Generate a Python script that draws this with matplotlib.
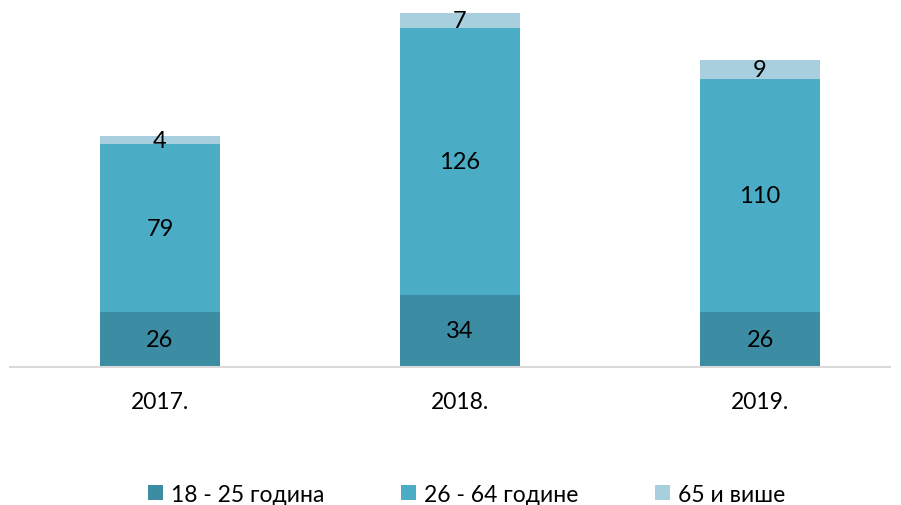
import matplotlib.pyplot as plt

plt.rcParams['font.family'] = ['Lato', 'DejaVu Sans']

years = ['2017.', '2018.', '2019.']
young = [26, 34, 26]
middle = [79, 126, 110]
old = [4, 7, 9]
labels = ['18 - 25 година', '26 - 64 године', '65 и више']
colors = ['#3C8CA3', '#4BACC6', '#A8CFDD']

fig = plt.figure(figsize=(9.01, 5.06), dpi=100)
ax = fig.add_axes([10 / 901, 1 - 368 / 506, 880 / 901, 368 / 506])

x = range(len(years))
bottom = [0] * len(years)
for vals, lab, col in zip([young, middle, old], labels, colors):
    ax.bar(x, vals, width=0.4, bottom=bottom, color=col, label=lab)
    for xi, b, v in zip(x, bottom, vals):
        ax.text(xi, b + v / 2, str(v), ha='center', va='center', fontsize=17, color='black')
    bottom = [b + v for b, v in zip(bottom, vals)]

ax.set_xlim(-0.5, 2.433)
ax.set_ylim(0, 368 / 2.12)
ax.set_yticks([])
ax.set_xticks(list(x))
ax.set_xticklabels(years, fontsize=16.5)
ax.tick_params(axis='x', length=0, pad=17)
for s in ['top', 'right', 'left']:
    ax.spines[s].set_visible(False)
ax.spines['bottom'].set_color('#D9D9D9')
ax.spines['bottom'].set_linewidth(1.5)

fig.legend(loc='lower center', bbox_to_anchor=(0.518, -0.04), ncol=3, frameon=False,
           fontsize=16.5, handlelength=0.65, handleheight=0.65, handletextpad=0.35,
           columnspacing=3.35)

fig.savefig('out.png', dpi=100)
